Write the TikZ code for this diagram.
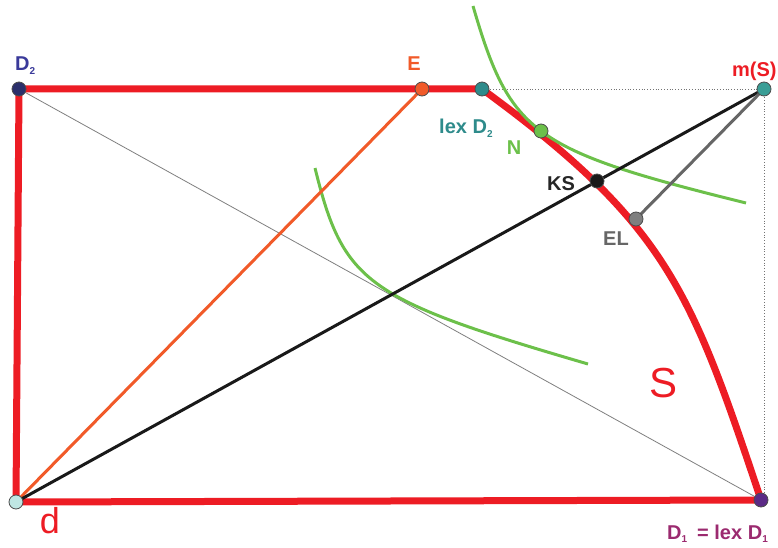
\documentclass[tikz,border=0pt]{standalone}
\usepackage{fontspec}
\setmainfont{Liberation Sans}
\definecolor{cred}{HTML}{ED1C24}
\definecolor{corange}{HTML}{F15A29}
\definecolor{cgreen}{HTML}{6CC04A}
\definecolor{cteal}{HTML}{2E8B8B}
\definecolor{cteal2}{HTML}{3A9E96}
\definecolor{cnavy}{HTML}{2B2F6B}
\definecolor{cblue}{HTML}{3A3A9A}
\definecolor{cpurple}{HTML}{5B2A86}
\definecolor{cplum}{HTML}{9B2A6F}
\definecolor{cgray}{HTML}{7F7F7F}
\definecolor{clight}{HTML}{BFE6E3}
\newcommand{\lsub}[1]{\raisebox{-0.35ex}{\fontsize{10}{12}\selectfont #1}}
\begin{document}
\begin{tikzpicture}[x=1pt,y=-1pt,
  dot/.style={circle,draw=black!70,line width=0.8pt,inner sep=0pt,minimum size=14pt},
  lbl/.style={font=\fontsize{20}{22}\selectfont\bfseries,inner sep=0pt},
  bigred/.style={draw=cred,line width=7pt,line cap=round,line join=round},
  ln/.style={line width=3pt},
  thin dotted line/.style={draw=black!55,line width=0.8pt,dotted}]
\useasboundingbox (0,0) rectangle (778,548);
% coordinates
\coordinate (pD2) at (19,89);
\coordinate (pE) at (422,89);
\coordinate (plex) at (482,89);
\coordinate (pm) at (764,89);
\coordinate (pd) at (16,502);
\coordinate (pD1) at (761,500);
\coordinate (pN) at (541,131);
\coordinate (pKS) at (597,181);
\coordinate (pEL) at (636,219);
\coordinate (g1a) at (473,6);
\coordinate (g1b) at (746,203);
\coordinate (g2a) at (315,168);
\coordinate (g2b) at (588,364);
% thin lines
\draw[thin dotted line] (plex) -- (pm);
\draw[thin dotted line] (pm) -- (pm |- pD1);
\draw[cgray,line width=0.8pt] (pD2) -- (pD1);
% red boundary
\draw[bigred] (plex) -- (pD2) -- (pd) -- (pD1);
\draw[bigred] (plex) .. controls (668,225) and (691,291) .. (pD1);
% green curves
\draw[cgreen,ln] (g1a) .. controls (510.4,134.3) and (532.3,150.1) .. (g1b);
\draw[cgreen,ln] (g2a) .. controls (343.5,283.4) and (365.4,299) .. (g2b);
% straight lines
\draw[corange,ln] (pd) -- (pE);
\draw[black!90,ln] (pd) -- (pm);
\draw[black!60,ln] (pm) -- (pEL);
% dots
\node[dot,fill=cnavy] (D2) at (pD2) {};
\node[dot,fill=corange] (E) at (pE) {};
\node[dot,fill=cteal] (lex) at (plex) {};
\node[dot,fill=cteal2] (mS) at (pm) {};
\node[dot,fill=clight] (d) at (pd) {};
\node[dot,fill=cpurple] (D1) at (pD1) {};
\node[dot,fill=cgreen] (N) at (pN) {};
\node[dot,fill=black!90] (KS) at (pKS) {};
\node[dot,fill=cgray] (EL) at (pEL) {};
% labels
\node[lbl,text=cblue,anchor=base west] (tD2) at (15,71) {D\lsub{2}};
\node[lbl,text=corange,anchor=base] (tE) at (414,71) {E};
\node[lbl,text=cteal,anchor=base west] (tlex) at (439,134) {lex D\lsub{2}};
\node[lbl,text=cgreen,anchor=base] (tN) at (514,155) {N};
\node[lbl,text=cred,anchor=base west] (tm) at (732,77) {m(S)};
\node[lbl,text=black!85,anchor=base west] (tKS) at (547,190) {KS};
\node[lbl,text=black!60,anchor=base west] (tEL) at (603,245) {EL};
\node[lbl,text=cplum,anchor=base west] (tD1) at (667,539) {D\lsub{1}\hspace{10pt}= lex D\lsub{1}};
\node[text=cred,font=\fontsize{42}{44}\selectfont,inner sep=0pt,anchor=base] (tS) at (663,397) {S};
\node[text=cred,font=\fontsize{36}{38}\selectfont,inner sep=0pt,anchor=base] (td) at (50,533) {d};
\end{tikzpicture}
\end{document}
